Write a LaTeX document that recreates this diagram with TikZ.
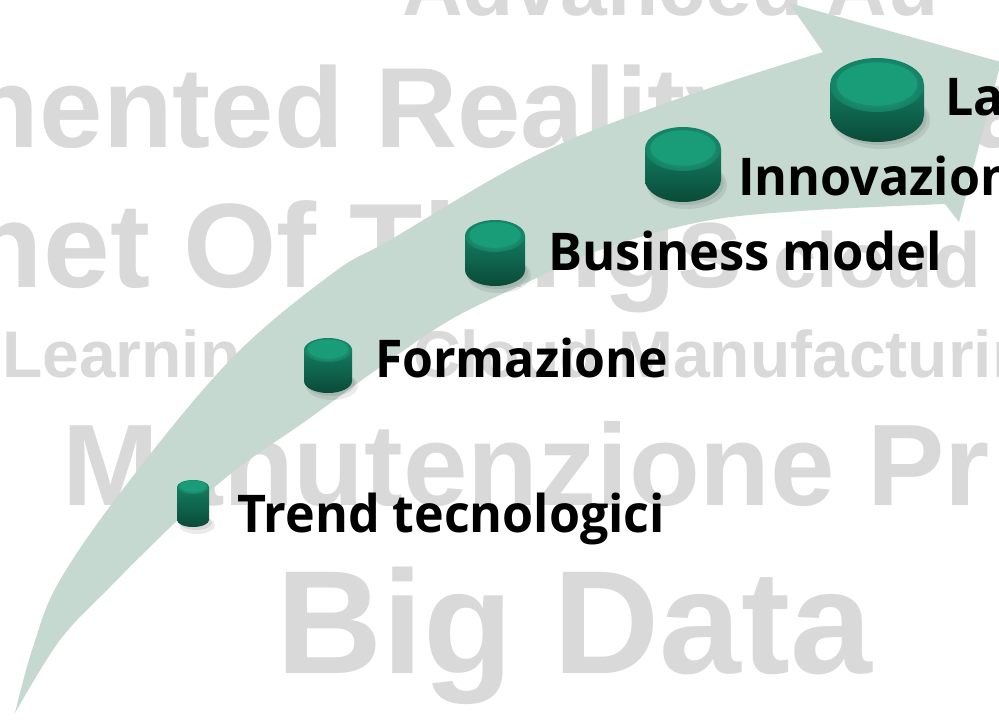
\documentclass[tikz,border=0pt]{standalone}
\usepackage{fontspec}
\newfontfamily\gfont{Liberation Sans}
\newfontfamily\lfont{Open Sans}
\definecolor{greytxt}{RGB}{217,217,217}
\definecolor{band}{RGB}{197,217,208}
\definecolor{topface}{RGB}{25,157,121}
\definecolor{topedge}{RGB}{19,130,100}
\definecolor{sidetop}{RGB}{19,124,95}
\definecolor{sidebot}{RGB}{10,74,57}
\tikzset{
  bg/.style={anchor=base west, inner sep=0pt, outer sep=0pt, text=greytxt,
    font=\gfont\bfseries\fontsize{#1}{#1}\selectfont},
  lbl/.style={anchor=base west, inner sep=0pt, outer sep=0pt, text=black,
    font=\lfont\bfseries\fontsize{52}{52}\selectfont},
}
% #1 name, #2 cx, #3 rx, #4 y top-centre, #5 y bottom-centre, #6 ry
\newcommand\drawcyl[6]{%
  \fill[black, opacity=0.08] (#2+4,#5+5) ellipse [x radius={#3pt+2pt}, y radius={#6pt+2pt}];
  \fill[black, opacity=0.08] (#2+3,#5+3) ellipse [x radius=#3pt, y radius=#6pt];
  \shade[top color=sidetop, bottom color=sidebot]
    (#2-#3,#4) -- (#2-#3,#5) arc[start angle=180, end angle=360, x radius=#3pt, y radius=#6pt]
    -- (#2+#3,#4) -- cycle;
  \shade[inner color=topface!88!white, outer color=topedge] (#2,#4) ellipse [x radius=#3pt, y radius=#6pt];
  \fill[topface] (#2,#4-1) ellipse [x radius={0.86*#3pt}, y radius={0.80*#6pt}];
  \coordinate (#1) at (#2,#4);
}
\begin{document}
\begin{tikzpicture}[x=1pt, y=-1pt]
\useasboundingbox (0,0) rectangle (999,721);
\clip (0,0) rectangle (999,721);
\fill[white] (0,0) rectangle (999,721);

% background words
\node[bg=84]  (tA)  at (402,15)  {Advanced Au};
\node[bg=114] (tB)  at (-30,147) {nented Reality};
\node[bg=114] (tB2) at (971,147) {a};
\node[bg=120] (tC)  at (-30,287) {net Of Things};
\node[bg=78]  (tC2) at (773,287) {cloud};
\node[bg=66]  (tD)  at (2,377)   {Learning};
\node[bg=66]  (tD2) at (413,377) {Cloud Manufacturing};
\node[bg=116] (tE)  at (62,505)  {Manutenzione Pr};
\node[bg=147] (tF)  at (276,673) {Big Data};

% curved arrow
\fill[band] plot[smooth, tension=0.6] coordinates {(15,713) (33,647) (60,580) (130,480) (233,357) (333,273) (390,240) (533,157) (666,103) (823,52)}
  -- (789,3) -- (1001,62) -- (959,222) -- (945,204)
  -- plot[smooth, tension=0.6] coordinates {(945,204) (800,211) (700,222) (600,250) (526,283) (450,320) (376,370) (307,420) (242,465) (194,505) (155,542) (110,587) (60,640) (15,713)}
  -- cycle;

% cylinders
\drawcyl{c1}{193}{16}{487}{520}{7}
\drawcyl{c2}{328}{24}{350}{381}{12}
\drawcyl{c3}{495}{30}{236}{270}{16}
\drawcyl{c4}{683}{38}{149}{180}{22}
\drawcyl{c5}{877}{47}{85}{115}{27}

% labels
\node[lbl] (l1) at (237,532) {\scalebox{0.965}[1]{Trend tecnologici}};
\node[lbl] (l2) at (375,377) {\scalebox{0.96}[1]{Formazione}};
\node[lbl] (l3) at (548,270) {\scalebox{0.975}[1]{Business model}};
\node[lbl] (l4) at (738,195) {\scalebox{0.965}[1]{Innovazion}};
\node[lbl] (l5) at (945,115) {\scalebox{0.965}[1]{La}};
\end{tikzpicture}
\end{document}
